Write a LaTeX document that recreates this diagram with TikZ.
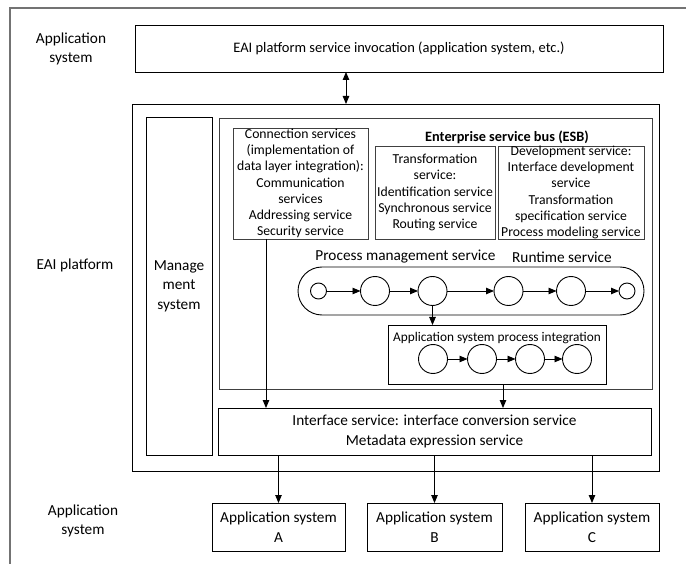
\documentclass[tikz,border=0pt]{standalone}
\usepackage{fontspec}
\setmainfont{Carlito}
\usetikzlibrary{arrows.meta,calc}
\begin{document}
\begin{tikzpicture}[x=1pt,y=-1pt,
  box/.style={draw, line width=0.9pt, inner sep=0pt, outer sep=0pt, align=center},
  gbox/.style={draw=black!75, line width=0.85pt, inner sep=0pt, outer sep=0pt, align=center},
  circ/.style={draw, line width=0.9pt, circle, inner sep=0pt, outer sep=0pt, minimum size=29pt},
  scirc/.style={circ, minimum size=16pt},
  arr/.style={line width=0.9pt, -{Triangle[length=8pt,width=6.5pt]}},
  darr/.style={line width=0.9pt, {Triangle[length=8pt,width=6.5pt]}-{Triangle[length=8pt,width=6.5pt]}},
  lbl/.style={inner sep=0pt, align=center, font=\fontsize{15.3}{18.5}\selectfont},
  bigtxt/.style={font=\fontsize{15.3}{19.5}\selectfont},
  esbtxt/.style={font=\fontsize{13.7}{16.2}\selectfont},
]
\useasboundingbox (0,0) rectangle (686,564);
% outer frame (cropped)
\draw[black!55, line width=1.4pt] (10,564) -- (10,8) -- (686,8);

% labels
\node[lbl] (lblTop) at (71,49) {Application\\system};
\node[lbl] (lblEAI) at (75,265) {EAI platform};
\node[lbl] (lblBot) at (83,521) {Application\\system};

% top box
\node[box, minimum width=528pt, minimum height=47pt, font=\fontsize{14.5}{17}\selectfont] (top) at (399,48.5) {EAI platform service invocation (application system, etc.)};

% main EAI box
\node[box, minimum width=527pt, minimum height=367pt] (main) at (395.5,287.5) {};

% management
\node[box, minimum width=66pt, minimum height=338pt, bigtxt] (mgmt) at (179,286) {Manage\\ment\\system};

% ESB
\node[gbox, minimum width=433pt, minimum height=271pt] (esb) at (435.5,253.5) {};
\node[inner sep=0pt, font=\bfseries\fontsize{14.3}{17}\selectfont] (esbt) at (507,137) {Enterprise service bus (ESB)};

\node[gbox, minimum width=135pt, minimum height=111pt, esbtxt] (conn) at (300.5,183.5) {Connection services\\(implementation of\\data layer integration):\\Communication\\services\\Addressing service\\Security service};
\node[gbox, minimum width=120pt, minimum height=93pt, esbtxt] (trans) at (435,192.5) {Transformation\\service:\\Identification service\\Synchronous service\\Routing service};
\node[gbox, minimum width=146pt, minimum height=93pt, esbtxt] (dev) at (571,192.5) {Development service:\\Interface development\\service\\Transformation\\specification service\\Process modeling service};

% process management
\node[inner sep=0pt, bigtxt] (pms) at (405.5,257) {Process management service};
\node[inner sep=0pt, bigtxt] (rts) at (562,257) {Runtime service};
\node[box, minimum width=346pt, minimum height=48pt, rounded corners=24pt] (pill) at (471,291) {};
\node[scirc] (p1) at (318.5,291) {};
\node[circ] (p2) at (375,291) {};
\node[circ] (p3) at (432.5,291) {};
\node[circ] (p4) at (508.5,291) {};
\node[circ] (p5) at (571,291) {};
\node[scirc] (p6) at (627,291) {};
\draw[arr] (p1) -- (p2);
\draw[arr] (p2) -- (p3);
\draw[arr] (p3) -- (p4);
\draw[arr] (p4) -- (p5);
\draw[arr] (p5) -- (p6);

% application system process integration
\node[box, minimum width=218pt, minimum height=59pt] (aspi) at (497,354.5) {};
\node[inner sep=0pt, font=\fontsize{13.3}{16}\selectfont] (aspit) at (497,338) {Application system process integration};
\node[circ] (a1) at (433,359) {};
\node[circ] (a2) at (482,359) {};
\node[circ] (a3) at (530,359) {};
\node[circ] (a4) at (577,359) {};
\draw[arr] (a1) -- (a2);
\draw[arr] (a2) -- (a3);
\draw[arr] (a3) -- (a4);
\draw[arr] (p3) -- (p3 |- aspi.north);

% interface
\node[box, minimum width=433pt, minimum height=47pt, bigtxt] (iface) at (434.5,431.5) {Interface service: interface conversion service\\Metadata expression service};

% application systems
\node[box, minimum width=133pt, minimum height=48pt, bigtxt] (appA) at (278.5,527) {Application system\\A};
\node[box, minimum width=135pt, minimum height=48pt, bigtxt] (appB) at (434.5,527) {Application system\\B};
\node[box, minimum width=134pt, minimum height=48pt, bigtxt] (appC) at (592,527) {Application system\\C};

% connectors
\coordinate (xconn) at (266,0);
\coordinate (xaspi) at (503,0);
\coordinate (xtop) at (346,0);
\draw[darr] (top.south -| xtop) -- (main.north -| xtop);
\draw[arr] (conn.south -| xconn) -- (iface.north -| xconn);
\draw[arr] (aspi.south -| xaspi) -- (iface.north -| xaspi);
\draw[arr] (iface.south -| appA) -- (appA.north);
\draw[arr] (iface.south -| appB) -- (appB.north);
\draw[arr] (iface.south -| appC) -- (appC.north);
\end{tikzpicture}
\end{document}
